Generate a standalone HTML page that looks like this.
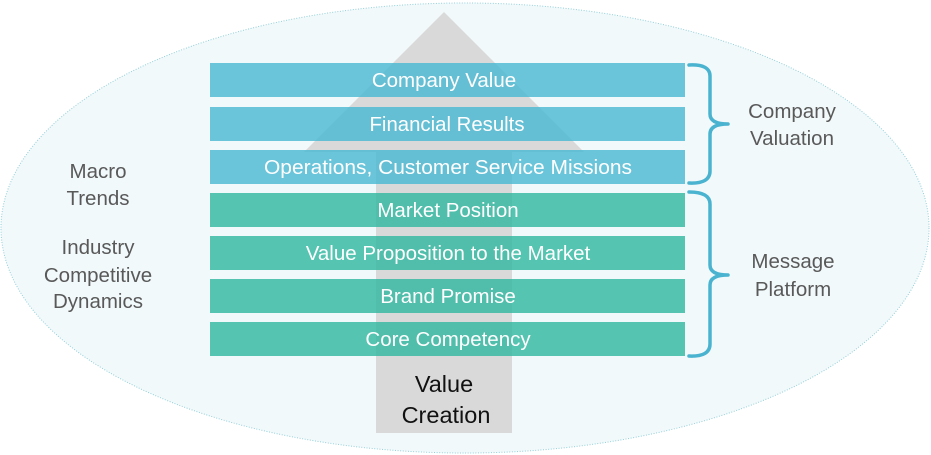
<!DOCTYPE html>
<html>
<head>
<meta charset="utf-8">
<style>
  html, body { margin: 0; padding: 0; background: #ffffff; }
  body { width: 931px; height: 455px; overflow: hidden; }
  svg { display: block; }
  text { font-family: "Liberation Sans", Arial, sans-serif; }
</style>
</head>
<body>
<svg width="931" height="455" viewBox="0 0 931 455" xmlns="http://www.w3.org/2000/svg">
  <rect x="0" y="0" width="931" height="455" fill="#ffffff"/>
  <!-- outer ellipse -->
  <ellipse cx="465" cy="228" rx="464" ry="225" fill="#f2f9fb" stroke="#93cfd9" stroke-width="1" stroke-dasharray="1 1.6"/>

  <!-- big arrow -->
  <polygon points="444,12 584,152 512,152 512,433 376,433 376,152 304,152" fill="#d9d9d9"/>

  <!-- bars -->
  <g>
    <rect x="210" y="63"  width="475" height="34" fill="rgba(71,184,210,0.8)"/>
    <rect x="210" y="107" width="475" height="34" fill="rgba(71,184,210,0.8)"/>
    <rect x="210" y="150" width="475" height="34" fill="rgba(71,184,210,0.8)"/>
    <rect x="210" y="193" width="475" height="34" fill="rgba(45,182,159,0.8)"/>
    <rect x="210" y="236" width="475" height="34" fill="rgba(45,182,159,0.8)"/>
    <rect x="210" y="279" width="475" height="34" fill="rgba(45,182,159,0.8)"/>
    <rect x="210" y="322" width="475" height="34" fill="rgba(45,182,159,0.8)"/>
  </g>

  <!-- bar labels -->
  <g fill="#ffffff" font-size="20.5" text-anchor="middle">
    <text x="444" y="87">Company Value</text>
    <text x="447" y="131" textLength="155" lengthAdjust="spacingAndGlyphs">Financial Results</text>
    <text x="448" y="174" textLength="368" lengthAdjust="spacingAndGlyphs">Operations, Customer Service Missions</text>
    <text x="448" y="217">Market Position</text>
    <text x="448" y="260">Value Proposition to the Market</text>
    <text x="448" y="303">Brand Promise</text>
    <text x="448" y="346">Core Competency</text>
  </g>

  <!-- braces -->
  <g fill="none" stroke="#4ab3cf" stroke-width="3.5" stroke-linecap="round" stroke-linejoin="round">
    <path d="M689,65 Q710,64 710,76 L710,114 Q710,124 728,124 Q710,124 710,134 L710,171 Q710,184 689,183"/>
    <path d="M689,192 Q710,192 710,204 L710,265 Q710,275 728,275 Q710,275 710,285 L710,344 Q710,357 689,356"/>
  </g>

  <!-- right labels -->
  <g fill="#595959" font-size="20.5" text-anchor="middle">
    <text x="792" y="118">Company</text>
    <text x="792" y="145">Valuation</text>
    <text x="793" y="268">Message</text>
    <text x="793" y="296">Platform</text>
  </g>

  <!-- left labels -->
  <g fill="#595959" font-size="20.5" text-anchor="middle">
    <text x="98" y="178">Macro</text>
    <text x="98" y="205">Trends</text>
    <text x="98" y="254">Industry</text>
    <text x="98" y="282">Competitive</text>
    <text x="98" y="308">Dynamics</text>
  </g>

  <!-- value creation -->
  <g fill="#111111" font-size="23.5" text-anchor="middle">
    <text x="444" y="392">Value</text>
    <text x="446" y="423">Creation</text>
  </g>
</svg>
</body>
</html>
